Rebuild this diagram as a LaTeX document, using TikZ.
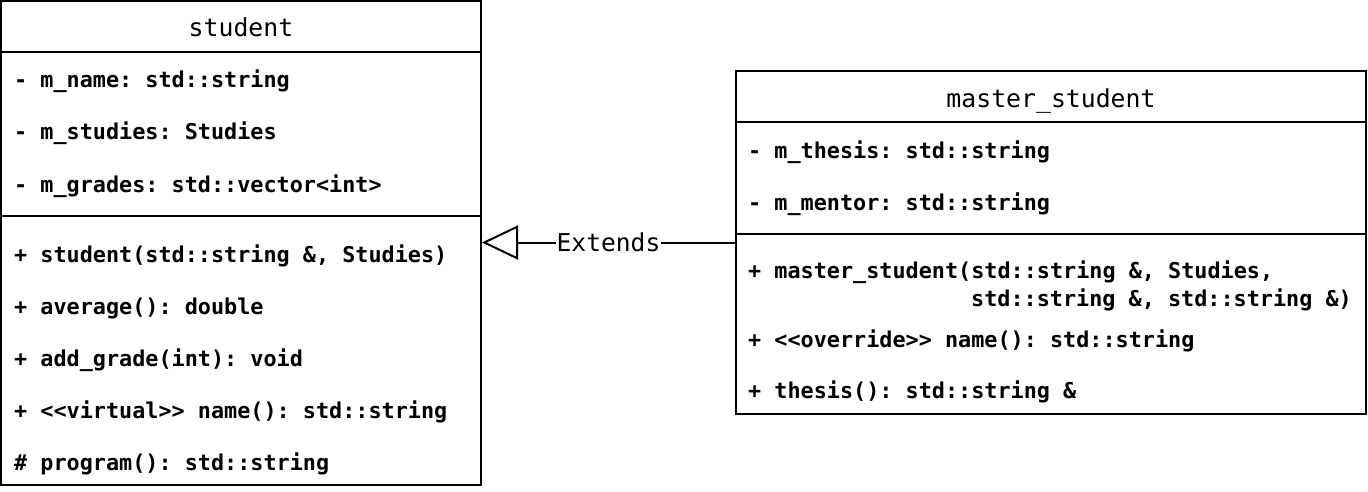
\documentclass[tikz,border=0pt]{standalone}
\usepackage{fontspec}
\newfontfamily\codefont{DejaVu Sans Mono}
\usetikzlibrary{arrows.meta}
\tikzset{
  box/.style={draw=black, line width=2pt, fill=white, inner sep=0pt},
  divider/.style={draw=black, line width=2pt},
  member/.style={anchor=base west, inner sep=0pt, font=\codefont\bfseries\frenchspacing\fontsize{21.8}{26}\selectfont},
  classtitle/.style={anchor=base, inner sep=0pt, font=\codefont\frenchspacing\fontsize{24.8}{30}\selectfont},
  conn/.style={draw=black, line width=2pt, -{Triangle[open, length=36pt, width=34pt, line width=2pt]}},
  connlabel/.style={fill=white, inner sep=1pt, font=\codefont\fontsize{24.6}{30}\selectfont}
}
\begin{document}
\begin{tikzpicture}[x=1pt,y=-1pt]
\useasboundingbox (0,0) rectangle (1368,492);
% student class
\node[box, minimum width=480pt, minimum height=484pt] (student) at (241,243) {};
\draw[divider] (1,52) -- (481,52);
\draw[divider] (1,216) -- (481,216);
\node[classtitle] (stitle) at (241,37) {student};
\node[member] (s1) at (14,88) {- m\_name: std::string};
\node[member] (s2) at (14,140) {- m\_studies: Studies};
\node[member] (s3) at (14,192) {- m\_grades: std::vector<int>};
\node[member] (s4) at (14,262) {+ student(std::string \&, Studies)};
\node[member] (s5) at (14,314) {+ average(): double};
\node[member] (s6) at (14,366) {+ add\_grade(int): void};
\node[member] (s7) at (14,418) {+ <<virtual>> name(): std::string};
\node[member] (s8) at (14,470) {\# program(): std::string};
% master_student class
\node[box, minimum width=630pt, minimum height=343pt] (master) at (1051,242.5) {};
\draw[divider] (736,122) -- (1366,122);
\draw[divider] (736,234) -- (1366,234);
\node[classtitle] (mtitle) at (1051,108) {master\_student};
\node[member] (m1) at (748,158) {- m\_thesis: std::string};
\node[member] (m2) at (748,210) {- m\_mentor: std::string};
\node[member] (m3) at (748,278) {+ master\_student(std::string \&, Studies,};
\node[member] (m3b) at (971,306) {std::string \&, std::string \&)};
\node[member] (m4) at (748,347) {+ <<override>> name(): std::string};
\node[member] (m5) at (748,398) {+ thesis(): std::string \&};
% generalization
\draw[conn] (master.west) -- node[connlabel] (ext) {Extends} (student.east |- master.west);
\end{tikzpicture}
\end{document}
